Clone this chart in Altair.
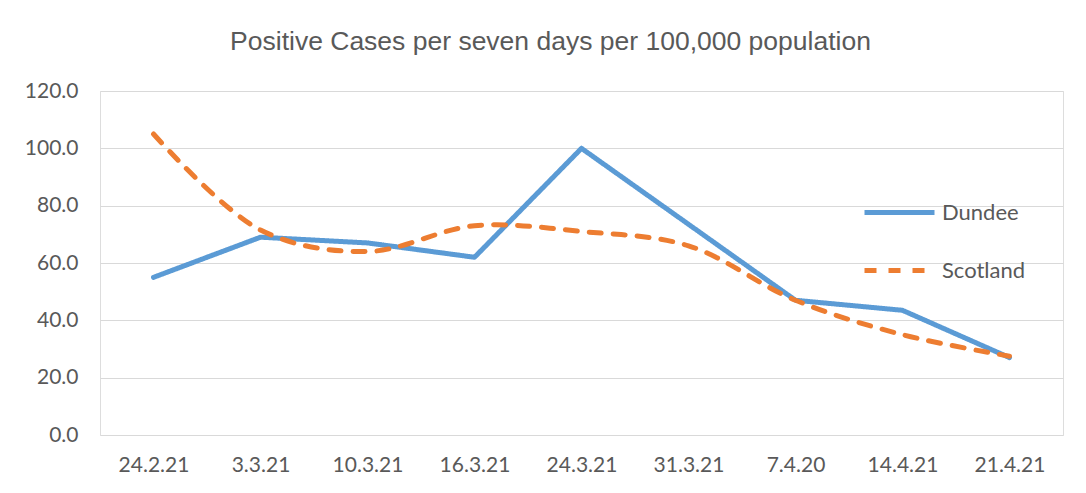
import altair as alt
import pandas as pd

categories = ["24.2.21", "3.3.21", "10.3.21", "16.3.21", "24.3.21", "31.3.21", "7.4.20", "14.4.21", "21.4.21"]
dundee = [55.0, 69.0, 67.0, 62.0, 100.0, 73.5, 47.0, 43.5, 27.0]
scotland = [105.0, 71.5, 64.0, 73.0, 71.0, 66.0, 47.0, 35.0, 27.5]
series_names = ["Dundee", "Scotland"]
series_colors = ["#5B9BD5", "#ED7D31"]
y_ticks = [0, 20, 40, 60, 80, 100, 120]

rows = []
for c, v in zip(categories, dundee):
    rows.append({"date": c, "value": v, "series": "Dundee"})
for c, v in zip(categories, scotland):
    rows.append({"date": c, "value": v, "series": "Scotland"})
df = pd.DataFrame(rows)

LABEL_FONT = "Lato"
TEXT_COLOR = "#595959"

legend_kw = dict(title=None, orient="none", legendX=769, legendY=91,
                 symbolType="M-1.25,0H1.25", symbolSize=3136,
                 symbolStrokeWidth=5, labelOffset=12,
                 labelFontSize=22, labelFont=LABEL_FONT,
                 labelColor=TEXT_COLOR, rowPadding=16, padding=0)

x_enc = alt.X("date:N", sort=categories, title=None,
              scale=alt.Scale(paddingInner=0, paddingOuter=0.5),
              axis=alt.Axis(labelAngle=0, ticks=False, domain=False, grid=False,
                            labelPadding=19, labelFontSize=21, labelFont=LABEL_FONT,
                            labelColor=TEXT_COLOR))
y_enc = alt.Y("value:Q", title=None,
              scale=alt.Scale(domain=[0, 120], nice=False),
              axis=alt.Axis(values=y_ticks, format=".1f", ticks=False, domain=False,
                            grid=True, gridColor="#D9D9D9", gridWidth=1,
                            labelPadding=22, labelFontSize=21, labelFont=LABEL_FONT,
                            labelColor=TEXT_COLOR))
color_enc = alt.Color("series:N", scale=alt.Scale(domain=series_names, range=series_colors),
                      legend=alt.Legend(**legend_kw))
dash_enc = alt.StrokeDash("series:N",
                          scale=alt.Scale(domain=series_names, range=[[1, 0], [12, 12]]),
                          legend=alt.Legend(**legend_kw))

base = alt.Chart(df).encode(x=x_enc, y=y_enc, color=color_enc, strokeDash=dash_enc)

dundee_line = base.transform_filter(alt.datum.series == "Dundee").mark_line(
    strokeWidth=5, strokeCap="round", strokeJoin="round")
scotland_line = base.transform_filter(alt.datum.series == "Scotland").mark_line(
    strokeWidth=5, strokeCap="round", strokeJoin="round", interpolate="catmull-rom")

chart = alt.layer(dundee_line, scotland_line).properties(
    width=963, height=344,
    autosize=alt.AutoSizeParams(type="none"),
    padding={"left": 92, "top": 83, "right": 15, "bottom": 50},
    title=alt.TitleParams("Positive Cases per seven days per 100,000 population",
                          anchor="middle", frame="group", dx=-31, offset=25,
                          font="Liberation Sans", fontSize=26.5, fontWeight="normal",
                          color=TEXT_COLOR),
).configure_view(stroke=None).configure(background="white")

chart.save("out.html", embed_options={"renderer": "svg", "actions": False})
